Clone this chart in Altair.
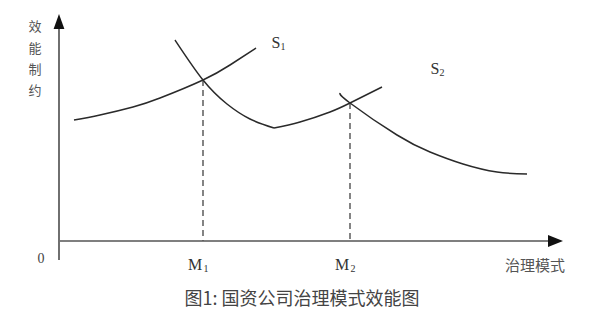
import altair as alt
import pandas as pd

# Origin of the schematic is where the axes cross; units are arbitrary "pixels" of the schematic
# Curve S1 rising branch
a_x = [15, 41, 74, 101, 144, 171, 197]
a_y = [121, 126, 134, 143, 161, 176, 193]
# Curve S1 falling branch (down to the kink)
b_x = [116, 144, 168, 191, 215]
b_y = [201, 161, 137, 122, 113]
# Curve S2 rising branch (from the kink)
c_x = [215, 241, 271, 291, 323]
c_y = [113, 119, 129, 138, 154]
# Curve S2 falling branch
d_x = [281, 291, 338, 371, 404, 438, 468]
d_y = [148, 138, 106, 89, 77, 69, 67]

# Equilibrium points M1, M2
m_x = [144, 291]
m_y = [161, 138]
m_names = ["M", "M"]
m_subs = ["1", "2"]

s_names = ["S", "S"]
s_subs = ["1", "2"]
s_x = [217, 376]
s_y = [198, 172]

y_label_chars = ["效", "能", "制", "约"]
y_label_y = [214, 192, 171, 150]

x_title = "治理模式"
caption = "图1: 国资公司治理模式效能图"

rows = []
for name, xs, ys in [("A", a_x, a_y), ("B", b_x, b_y), ("C", c_x, c_y), ("D", d_x, d_y)]:
    for i, (x, y) in enumerate(zip(xs, ys)):
        rows.append({"curve": name, "x": x, "y": y, "o": i})
curves = pd.DataFrame(rows)

X = alt.Scale(domain=[-59, 541])
Y = alt.Scale(domain=[-69, 241])

serif = "Liberation Serif, DejaVu Serif, serif"
cjk = "Noto Sans CJK SC"

line_layer = alt.Chart(curves).mark_line(
    color="#2a2a2a", strokeWidth=1.5, interpolate="natural"
).encode(
    x=alt.X("x:Q", scale=X, axis=None),
    y=alt.Y("y:Q", scale=Y, axis=None),
    detail="curve:N",
    order="o:Q",
)

mdf = pd.DataFrame({"x": m_x, "y": m_y, "y0": [0, 0], "name": m_names, "sub": m_subs})
dashes = alt.Chart(mdf).mark_rule(color="#333", strokeWidth=1.2, strokeDash=[6, 4]).encode(
    x=alt.X("x:Q", scale=X), y=alt.Y("y:Q", scale=Y), y2="y0:Q"
)

# axes
axdf = pd.DataFrame({"x": [0], "ybot": [-19], "ytop": [214], "xl": [1], "xr": [492], "yx": [0]})
yaxis = alt.Chart(axdf).mark_rule(color="#222", strokeWidth=1.3).encode(
    x=alt.X("x:Q", scale=X), y=alt.Y("ybot:Q", scale=Y), y2="ytop:Q"
)
xaxis = alt.Chart(axdf).mark_rule(color="#555", strokeWidth=1.3).encode(
    x=alt.X("xl:Q", scale=X), x2="xr:Q", y=alt.Y("yx:Q", scale=Y)
)
arrows = pd.DataFrame({"x": [0, 496.5], "y": [219.5, 0], "shape": ["up", "right"]})
up = alt.Chart(arrows[arrows["shape"] == "up"]).mark_point(
    shape="M0,-1L-0.72,1L0.72,1Z", filled=True, color="#111", size=225, opacity=1
).encode(x=alt.X("x:Q", scale=X), y=alt.Y("y:Q", scale=Y))
right = alt.Chart(arrows[arrows["shape"] == "right"]).mark_point(
    shape="M1,0L-1,-0.8L-1,0.8Z", filled=True, color="#111", size=225, opacity=1
).encode(x=alt.X("x:Q", scale=X), y=alt.Y("y:Q", scale=Y))

# M labels
m_lab = alt.Chart(mdf).mark_text(font=serif, fontSize=16, color="#333", dx=-8, baseline="middle").encode(
    x=alt.X("x:Q", scale=X), y=alt.value(265), text="name:N"
)
m_sub = alt.Chart(mdf).mark_text(font=serif, fontSize=10, color="#333", dx=3, baseline="middle").encode(
    x=alt.X("x:Q", scale=X), y=alt.value(269), text="sub:N"
)

sdf = pd.DataFrame({"x": s_x, "y": s_y, "name": s_names, "sub": s_subs})
s_lab = alt.Chart(sdf).mark_text(font=serif, fontSize=16, color="#333", baseline="middle").encode(
    x=alt.X("x:Q", scale=X), y=alt.Y("y:Q", scale=Y), text="name:N"
)
s_sub = alt.Chart(sdf).mark_text(font=serif, fontSize=10, color="#333", dx=7, dy=4, baseline="middle").encode(
    x=alt.X("x:Q", scale=X), y=alt.Y("y:Q", scale=Y), text="sub:N"
)

zero = alt.Chart(pd.DataFrame({"t": ["0"]})).mark_text(
    font=serif, fontSize=14, color="#444", baseline="middle"
).encode(x=alt.value(41), y=alt.value(259), text="t:N")

ydf = pd.DataFrame({"c": y_label_chars, "y": y_label_y})
ylab = alt.Chart(ydf).mark_text(font=cjk, fontSize=13, color="#555", baseline="middle").encode(
    x=alt.value(35), y=alt.Y("y:Q", scale=Y), text="c:N"
)

xt = alt.Chart(pd.DataFrame({"t": [x_title]})).mark_text(
    font=cjk, fontSize=15, color="#555", baseline="middle"
).encode(x=alt.value(535), y=alt.value(266), text="t:N")

cap = alt.Chart(pd.DataFrame({"t": [caption]})).mark_text(
    font=cjk, fontSize=18, color="#444", baseline="middle"
).encode(x=alt.value(302), y=alt.value(300), text="t:N")

chart = alt.layer(
    line_layer, dashes, yaxis, xaxis, up, right, m_lab, m_sub, s_lab, s_sub, zero, ylab, xt, cap
).properties(
    width=600, height=310, padding=0, autosize=alt.AutoSizeParams(type="none"), background="white"
).configure_view(stroke=None)

chart.save("out.html", embed_options={"renderer": "svg", "actions": False})
